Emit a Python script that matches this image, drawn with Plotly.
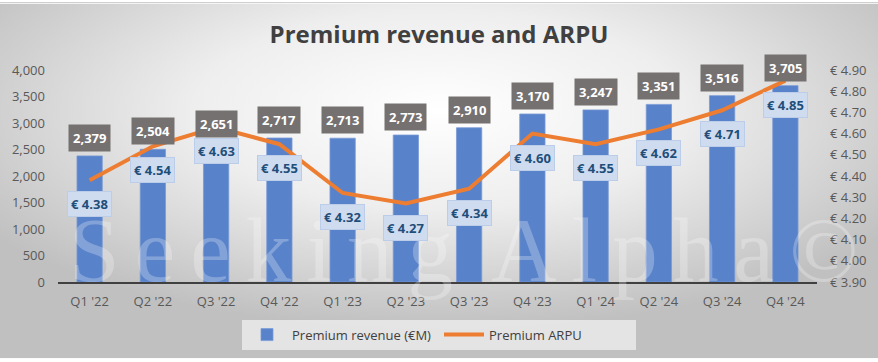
import plotly.graph_objects as go
import urllib.parse

quarters = ["Q1 '22", "Q2 '22", "Q3 '22", "Q4 '22", "Q1 '23", "Q2 '23",
            "Q3 '23", "Q4 '23", "Q1 '24", "Q2 '24", "Q3 '24", "Q4 '24"]
revenue = [2379, 2504, 2651, 2717, 2713, 2773, 2910, 3170, 3247, 3351, 3516, 3705]
arpu = [4.38, 4.54, 4.63, 4.55, 4.32, 4.27, 4.34, 4.60, 4.55, 4.62, 4.71, 4.85]

W, H = 878, 362
ML, MR, MT, MB = 58, 61, 70, 78
PW, PH = W - ML - MR, H - MT - MB

FONT = "Open Sans"

svg = (
    "<svg xmlns='http://www.w3.org/2000/svg' width='878' height='362' viewBox='0 0 878 362' preserveAspectRatio='none'>"
    "<defs><radialGradient id='g' cx='0.5' cy='0.3' r='0.62'>"
    "<stop offset='0' stop-color='#ffffff'/>"
    "<stop offset='0.45' stop-color='#eeeeee'/>"
    "<stop offset='1' stop-color='#c0c0c0'/>"
    "</radialGradient></defs>"
    "<rect x='0' y='0' width='878' height='362' fill='url(#g)'/>"
    "</svg>"
)
bg_src = "data:image/svg+xml;charset=utf-8," + urllib.parse.quote(svg)

fig = go.Figure()

fig.add_trace(go.Bar(
    x=quarters, y=revenue, name="Premium revenue (€M)",
    marker=dict(color="#5882CA", line=dict(color="#7a9bd6", width=0.8)),
    yaxis="y",
))
fig.add_trace(go.Scatter(
    x=quarters, y=arpu, name="Premium ARPU", mode="lines",
    line=dict(color="#ED7D31", width=4),
    yaxis="y2",
))

annotations = []
# Watermark
sp = "\u2006"
wm = sp.join("Seeking") + " " + sp + sp.join("Alpha©")
annotations.append(dict(
    text=wm, xref="paper", yref="paper",
    x=(67 - ML) / PW, y=(284 - 252) / PH,
    xanchor="left", yanchor="middle", showarrow=False,
    font=dict(family="Liberation Serif", size=91, color="rgba(255,255,255,0.26)"),
))

for q, r in zip(quarters, revenue):
    annotations.append(dict(
        x=q, y=r, xref="x", yref="y", text=f"<b>{r:,}</b>",
        showarrow=False, yanchor="bottom", yshift=4,
        font=dict(family=FONT, size=13, color="white"),
        bgcolor="#767171", borderpad=4,
    ))
for q, a in zip(quarters, arpu):
    annotations.append(dict(
        x=q, y=a, xref="x", yref="y2", text=f"<b>€ {a:.2f}</b>",
        showarrow=False, yanchor="top", yshift=-11,
        font=dict(family=FONT, size=13, color="#1F4E79"),
        bgcolor="#cfdcf0", bordercolor="#bccde9", borderwidth=1, borderpad=3,
    ))

fig.update_layout(
    width=W, height=H,
    margin=dict(l=ML, r=MR, t=MT, b=MB),
    paper_bgcolor="white", plot_bgcolor="rgba(0,0,0,0)",
    images=[dict(source=bg_src, xref="paper", yref="paper",
                 x=-ML / PW, y=1 + (MT - 3) / PH,
                 sizex=W / PW, sizey=(H - 4) / PH,
                 xanchor="left", yanchor="top", sizing="stretch", layer="below")],
    title=dict(text="<b>Premium revenue and ARPU</b>", x=0.5, xref="container",
               y=1 - 35 / H, yref="container", xanchor="center", yanchor="middle",
               font=dict(family=FONT, size=24, color="#404040")),
    font=dict(family=FONT, size=13, color="#595959"),
    bargap=0.6,
    showlegend=True,
    legend=dict(orientation="h", x=(439 - ML) / PW, xanchor="center",
                y=(284 - 322) / PH, yanchor="top",
                bgcolor="rgba(240,240,240,0.75)",
                font=dict(family=FONT, size=13, color="#404040"),
                itemwidth=40, traceorder="normal",
                entrywidth=142, entrywidthmode="pixels"),
    xaxis=dict(showline=True, linecolor="#404040", linewidth=1.5, showgrid=False,
               ticks="", tickfont=dict(size=13, color="#595959"),
               ticklabelstandoff=7, fixedrange=True),
    yaxis=dict(range=[0, 4000], dtick=500, tickformat=",", showgrid=False,
               zeroline=False, showline=False, ticklabelstandoff=12,
               tickfont=dict(size=13, color="#595959")),
    yaxis2=dict(range=[3.9, 4.9], dtick=0.1, tickformat=".2f", tickprefix="€ ",
                overlaying="y", side="right", showgrid=False, zeroline=False,
                showline=False, ticklabelstandoff=12,
                tickfont=dict(size=13, color="#595959")),
    annotations=annotations,
    shapes=[dict(type="line", xref="paper", yref="paper",
                 x0=-ML / PW, x1=1 + MR / PW,
                 y0=1 + (MT - 2) / PH, y1=1 + (MT - 2) / PH,
                 line=dict(color="#c8c8c8", width=1))],
)

fig.write_html("out.html", config={"displayModeBar": False},
               post_script="document.body.style.margin='0';")
